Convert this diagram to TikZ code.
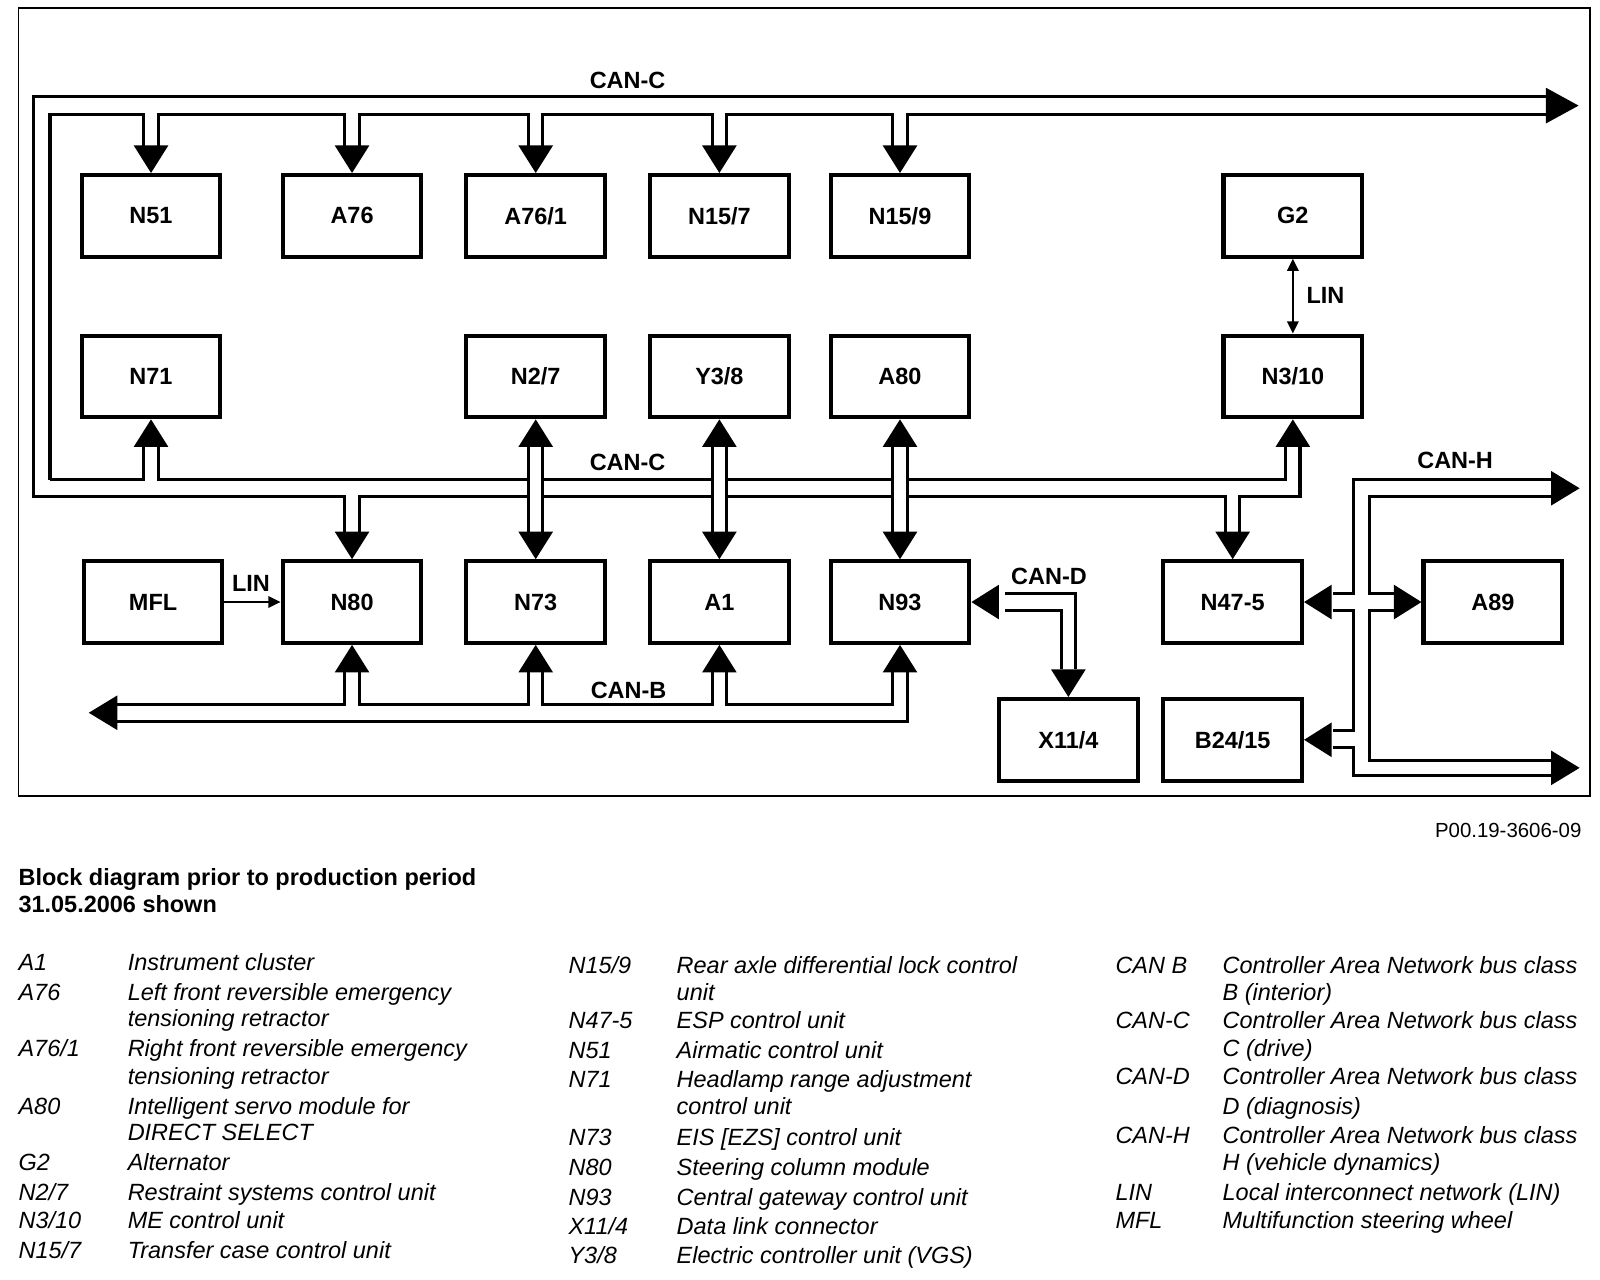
\documentclass[tikz,border=0pt]{standalone}
\usepackage{fontspec}
\setmainfont{Liberation Sans}
\usetikzlibrary{calc,arrows.meta}
% filled arrowheads: tip on the node anchor
\newcommand\tdn[1]{\fill (#1) -- ++(-17,-27) -- ++(34,0) -- cycle;}
\newcommand\tup[1]{\fill (#1) -- ++(-17,27) -- ++(34,0) -- cycle;}
\newcommand\tlt[1]{\fill (#1) -- ++(27,-17) -- ++(0,34) -- cycle;}
\newcommand\trt[1]{\fill (#1) -- ++(-27,-17) -- ++(0,34) -- cycle;}
\begin{document}
\begin{tikzpicture}[x=1pt,y=-1pt,
  box/.style={draw,line width=4pt,minimum width=136pt,minimum height=80pt,inner sep=0pt,
              font=\bfseries\fontsize{23}{23}\selectfont},
  bus/.style={line width=3pt,line join=miter},
  lbl/.style={font=\bfseries\fontsize{23}{23}\selectfont,inner sep=0pt},
  lin/.style={line width=2.5pt},
  leg/.style={anchor=base west,font=\itshape\fontsize{23}{23}\selectfont,inner sep=0pt},
  ttl/.style={anchor=base west,font=\bfseries\fontsize{23}{23}\selectfont,inner sep=0pt}]
\useasboundingbox (0,0) rectangle (1568,1254.4);
\draw[line width=1.5pt] (18,8) rectangle (1558,780);

% ---- boxes
\node[box] (N51)  at (148,211.5) {N51};
\node[box] (A76)  at (345,211.5) {A76};
\node[box] (A761) at (525,211.5) {A76/1};
\node[box] (N157) at (705,211.5) {N15/7};
\node[box] (N159) at (882,211.5) {N15/9};
\node[box] (G2)   at (1267,211.5) {G2};
\node[box] (N71)  at (148,369) {N71};
\node[box] (N27)  at (525,369) {N2/7};
\node[box] (Y38)  at (705,369) {Y3/8};
\node[box] (A80)  at (882,369) {A80};
\node[box] (N310) at (1267,369) {N3/10};
\node[box] (MFL)  at (150,590) {MFL};
\node[box] (N80)  at (345,590) {N80};
\node[box] (N73)  at (525,590) {N73};
\node[box] (A1)   at (705,590) {A1};
\node[box] (N93)  at (882,590) {N93};
\node[box] (N475) at (1208,590) {N47-5};
\node[box] (A89)  at (1463,590) {A89};
\node[box] (X114) at (1047,725) {X11/4};
\node[box] (B2415) at (1208,725) {B24/15};

% ---- CAN-C (top and middle)
\draw[bus] (1515,95) -- (33,95) -- (33,487) -- (338,487) -- (338,521);
\draw[bus] (49,470) -- (49,112) -- (141,112) -- (141,143);
\draw[bus] (155,143) -- (155,112) -- (338,112) -- (338,143);
\draw[bus] (352,143) -- (352,112) -- (518,112) -- (518,143);
\draw[bus] (532,143) -- (532,112) -- (698,112) -- (698,143);
\draw[bus] (712,143) -- (712,112) -- (875,112) -- (875,143);
\draw[bus] (889,143) -- (889,112) -- (1515,112);
\fill (1515,86) -- (1547,103.5) -- (1515,121) -- cycle;
\tdn{N51.north} \tdn{A76.north} \tdn{A761.north} \tdn{N157.north} \tdn{N159.north}

\draw[bus] (49,470) -- (141,470) -- (141,437);
\draw[bus] (155,437) -- (155,470) -- (518,470);
\draw[bus] (518,437) -- (518,521);
\draw[bus] (532,437) -- (532,521);
\draw[bus] (532,470) -- (698,470);
\draw[bus] (698,437) -- (698,521);
\draw[bus] (712,437) -- (712,521);
\draw[bus] (712,470) -- (875,470);
\draw[bus] (875,437) -- (875,521);
\draw[bus] (889,437) -- (889,521);
\draw[bus] (889,470) -- (1260,470) -- (1260,437);
\draw[bus] (352,521) -- (352,487) -- (518,487);
\draw[bus] (532,487) -- (698,487);
\draw[bus] (712,487) -- (875,487);
\draw[bus] (889,487) -- (1201,487) -- (1201,521);
\draw[bus] (1215,521) -- (1215,487) -- (1274,487) -- (1274,437);
\tup{N71.south} \tup{N27.south} \tup{Y38.south} \tup{A80.south} \tup{N310.south}
\tdn{N80.north} \tdn{N73.north} \tdn{A1.north} \tdn{N93.north} \tdn{N475.north}

% ---- CAN-B
\draw[bus] (115,690) -- (338,690) -- (338,659);
\draw[bus] (352,659) -- (352,690) -- (518,690) -- (518,659);
\draw[bus] (532,659) -- (532,690) -- (698,690) -- (698,659);
\draw[bus] (712,659) -- (712,690) -- (875,690) -- (875,659);
\draw[bus] (115,707) -- (889,707) -- (889,659);
\fill (87,698.5) -- (115,681.5) -- (115,715.5) -- cycle;
\tup{N80.south} \tup{N73.south} \tup{A1.south} \tup{N93.south}

% ---- CAN-D
\draw[bus] (985,582) -- (1054,582) -- (1054,656);
\draw[bus] (985,598) -- (1040,598) -- (1040,656);
\tlt{N93.east} \tdn{X114.north}

% ---- CAN-H
\draw[bus] (1520,470) -- (1326,470) -- (1326,582) -- (1306,582);
\draw[bus] (1306,598) -- (1326,598) -- (1326,716) -- (1306,716);
\draw[bus] (1306,733) -- (1326,733) -- (1326,760) -- (1520,760);
\draw[bus] (1520,487) -- (1342,487) -- (1342,582) -- (1366,582);
\draw[bus] (1366,598) -- (1342,598) -- (1342,745) -- (1520,745);
\fill (1520,461.5) -- (1548,478.5) -- (1520,495.5) -- cycle;
\fill (1520,735.5) -- (1548,752.5) -- (1520,769.5) -- cycle;
\tlt{N475.east} \tlt{B2415.east} \trt{A89.west}

% ---- LIN
\draw[lin,{Triangle[length=12pt,width=11pt]}-{Triangle[length=12pt,width=11pt]}] (G2.south) -- (N310.north);
\draw[lin,-{Triangle[length=12pt,width=11pt]}] (MFL.east) -- (N80.west);

% ---- bus labels
\node[lbl] at (615,79) {CAN-C};
\node[lbl] at (615,453) {CAN-C};
\node[lbl] at (616,677) {CAN-B};
\node[lbl] at (1028,565) {CAN-D};
\node[lbl] at (1426,451) {CAN-H};
\node[lbl] at (1299,290) {LIN};
\node[lbl] at (246,572) {LIN};

% ---- captions
\node[anchor=base east,font=\fontsize{20}{20}\selectfont,inner sep=0pt] at (1550,821) {P00.19-3606-09};
\node[ttl] at (18,868) {Block diagram prior to production period};
\node[ttl] at (18,894) {31.05.2006 shown};

% ---- legend column 1
\foreach \y/\c/\d in {951/A1/Instrument cluster,
  980/A76/Left front reversible emergency, 1006//tensioning retractor,
  1035/A76\slash 1/Right front reversible emergency, 1063//tensioning retractor,
  1092/A80/Intelligent servo module for, 1118//DIRECT SELECT,
  1147/G2/Alternator, 1176/N2\slash 7/Restraint systems control unit,
  1204/N3\slash 10/ME control unit, 1233/N15\slash 7/Transfer case control unit}
  {\node[leg] at (18,\y) {\c}; \node[leg] at (125,\y) {\d};}
% ---- legend column 2
\foreach \y/\c/\d in {954/N15\slash 9/Rear axle differential lock control, 980//unit,
  1008/N47-5/ESP control unit, 1037/N51/Airmatic control unit,
  1066/N71/Headlamp range adjustment, 1092//control unit,
  1123/N73/EIS [EZS] control unit, 1152/N80/Steering column module,
  1181/N93/Central gateway control unit, 1210/X11\slash 4/Data link connector,
  1238/Y3\slash 8/Electric controller unit (VGS)}
  {\node[leg] at (557,\y) {\c}; \node[leg] at (663,\y) {\d};}
% ---- legend column 3
\foreach \y/\c/\d in {954/CAN B/Controller Area Network bus class, 980//B (interior),
  1008/CAN-C/Controller Area Network bus class, 1035//C (drive),
  1063/CAN-D/Controller Area Network bus class, 1092//D (diagnosis),
  1121/CAN-H/Controller Area Network bus class, 1147//H (vehicle dynamics),
  1176/LIN/Local interconnect network (LIN), 1204/MFL/Multifunction steering wheel}
  {\node[leg] at (1093,\y) {\c}; \node[leg] at (1198,\y) {\d};}
\end{tikzpicture}
\end{document}
